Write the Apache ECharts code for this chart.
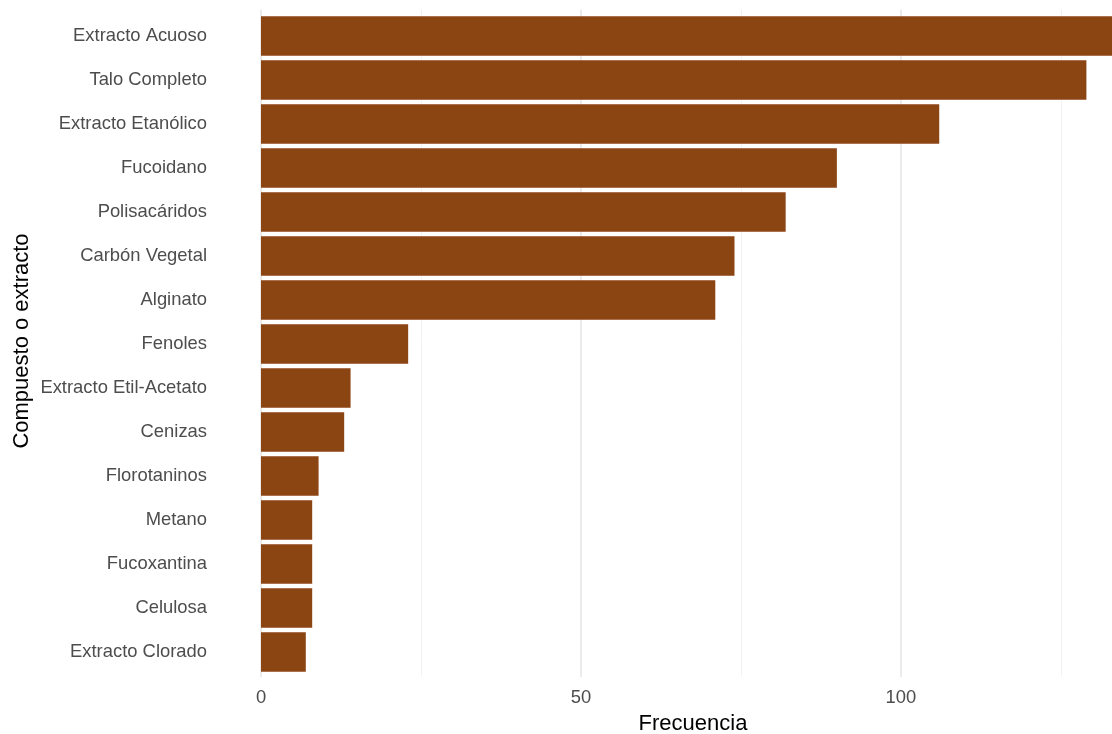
<!DOCTYPE html>
<html>
<head>
<meta charset="utf-8">
<script src="https://cdn.jsdelivr.net/npm/echarts@6/dist/echarts.min.js"></script>
<style>html,body{margin:0;padding:0;background:#fff;}#chart{width:1112px;height:734px;}</style>
</head>
<body>
<div id="chart"></div>
<script>
const categories = ["Extracto Acuoso","Talo Completo","Extracto Etanólico","Fucoidano","Polisacáridos","Carbón Vegetal","Alginato","Fenoles","Extracto Etil-Acetato","Cenizas","Florotaninos","Metano","Fucoxantina","Celulosa","Extracto Clorado"];
const frecuencia = [133,129,106,90,82,74,71,23,14,13,9,8,8,8,7];
const xMax = 133;
const majorTicks = [0,50,100];
const minorMax = 125;
const majorMax = 100;

const W = 1112, L = 261;
const pxPerUnit = (W - L) / xMax;
const chart = echarts.init(document.getElementById('chart'), null, {renderer:'canvas'});
const FONT = '"Liberation Sans", Arial, sans-serif';
chart.setOption({
  animation:false,
  backgroundColor:'#ffffff',
  grid:[
    {left:L, right:0, top:14, bottom:60},
    {left:L, right:W - L - minorMax * pxPerUnit, top:10, bottom:57},
    {left:L, right:W - L - majorMax * pxPerUnit, top:10, bottom:57}
  ],
  xAxis:[
    {type:'value', gridIndex:0, min:0, max:xMax, interval:50,
     axisLine:{show:false}, axisTick:{show:false}, splitLine:{show:false},
     axisLabel:{show:true, margin:15, color:'#4D4D4D', fontSize:18.4, fontFamily:FONT, showMaxLabel:false,
       formatter:v => majorTicks.includes(v) ? String(v) : ''}},
    {type:'value', gridIndex:1, min:0, max:minorMax, interval:25,
     axisLine:{show:false}, axisTick:{show:false}, axisLabel:{show:false},
     splitLine:{show:true, lineStyle:{color:'#F2F2F2', width:1}}},
    {type:'value', gridIndex:2, min:0, max:majorMax, interval:50,
     axisLine:{show:false}, axisTick:{show:false}, axisLabel:{show:false},
     splitLine:{show:true, lineStyle:{color:'#EBEBEB', width:2}}}
  ],
  yAxis:[
    {type:'category', gridIndex:0, data:categories, inverse:true,
     axisLine:{show:false}, axisTick:{show:false}, splitLine:{show:false},
     axisLabel:{margin:54, color:'#4D4D4D', fontSize:18.4, fontFamily:FONT, padding:[4,0,0,0]}},
    {type:'value', gridIndex:1, show:false},
    {type:'value', gridIndex:2, show:false}
  ],
  series:[{
    type:'bar', xAxisIndex:0, yAxisIndex:0, data:frecuencia, barWidth:'90%',
    itemStyle:{color:'#8B4513'}, z:3
  }],
  graphic:[
    {type:'text', x:693, y:724, z:10,
     style:{text:'Frecuencia', fill:'#000', font:'22px "Liberation Sans", Arial, sans-serif', textAlign:'center', textVerticalAlign:'middle'}},
    {type:'text', x:22, y:341, rotation:Math.PI/2, z:10,
     style:{text:'Compuesto o extracto', fill:'#000', font:'22px "Liberation Sans", Arial, sans-serif', textAlign:'center', textVerticalAlign:'middle'}}
  ]
});
</script>
</body>
</html>
